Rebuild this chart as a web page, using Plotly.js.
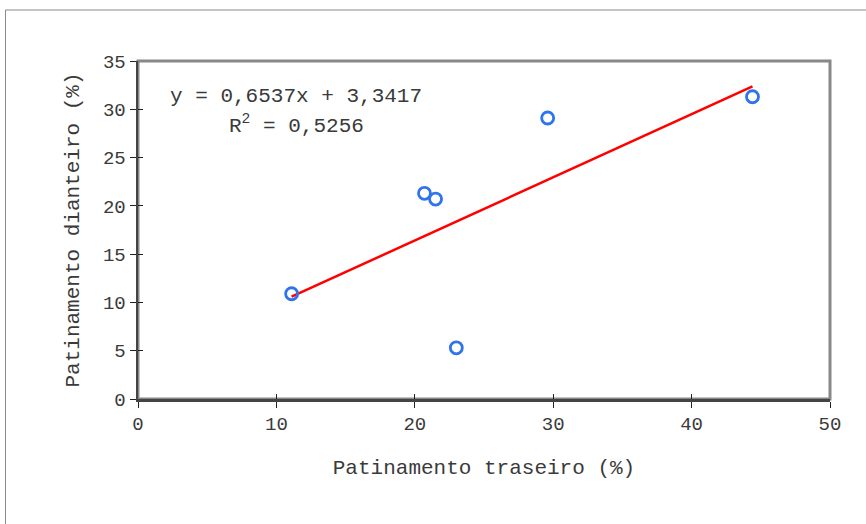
<!DOCTYPE html>
<html>
<head>
<meta charset="utf-8">
<script src="https://cdn.plot.ly/plotly-3.0.1.min.js"></script>
<style>html,body{margin:0;padding:0;background:#fff;}#chart{width:866px;height:524px;}</style>
</head>
<body>
<div id="chart"></div>
<script>
// Data
const traseiro = [11.1, 20.7, 21.5, 23.0, 29.6, 44.4];
const dianteiro = [10.9, 21.3, 20.7, 5.3, 29.1, 31.3];
const slope = 0.6537;
const intercept = 3.3417;
const r2 = "0,5256";
const xTicks = [0, 10, 20, 30, 40, 50];
const yTicks = [0, 5, 10, 15, 20, 25, 30, 35];

const xMin = Math.min(...traseiro), xMax = Math.max(...traseiro);
const trendX = [xMin, xMax];
const trendY = trendX.map(v => slope * v + intercept);

const font = 'Liberation Mono, Courier New, monospace';
const txt = '#3a3a3a';

const traces = [
  {x: trendX, y: trendY, mode: 'lines', type: 'scatter',
   line: {color: '#ff0000', width: 2.5}, hoverinfo: 'skip', showlegend: false},
  {x: traseiro, y: dianteiro, mode: 'markers', type: 'scatter',
   marker: {symbol: 'circle-open', size: 12, color: '#2f74ec', line: {width: 2.8, color: '#2f74ec'}},
   showlegend: false},
  // overlay for inside half of crossing ticks
  {x: [0], y: [0], xaxis: 'x2', yaxis: 'y2', mode: 'markers', marker: {opacity: 0}, hoverinfo: 'skip', showlegend: false}
];

const layout = {
  width: 866, height: 524,
  margin: {l: 138, r: 36, t: 61, b: 125},
  paper_bgcolor: '#fff', plot_bgcolor: '#fff',
  font: {family: font, color: txt, size: 19},
  xaxis: {
    range: [0, 50], tickvals: xTicks, ticktext: xTicks.map(String),
    showgrid: false, zeroline: false,
    showline: true, linecolor: '#444', linewidth: 2.5,
    ticks: 'outside', ticklen: 6, tickwidth: 1, tickcolor: '#222',
    tickfont: {family: font, size: 19, color: txt},
    title: {text: 'Patinamento traseiro (%)', font: {family: font, size: 21, color: txt}, standoff: 24}
  },
  yaxis: {
    range: [0, 35], tickvals: yTicks, ticktext: yTicks.map(String),
    showgrid: false, zeroline: false,
    showline: true, linecolor: '#444', linewidth: 2.5,
    ticks: 'outside', ticklen: 6, tickwidth: 1, tickcolor: '#222',
    tickfont: {family: font, size: 19, color: txt},
    title: {text: 'Patinamento dianteiro (%)', font: {family: font, size: 21, color: txt}, standoff: 18}
  },
  xaxis2: {overlaying: 'x', range: [0, 50], tickvals: xTicks, showticklabels: false,
    ticks: 'inside', ticklen: 5, tickwidth: 1, tickcolor: '#222', showgrid: false, zeroline: false, showline: false, anchor: 'y2', side: 'bottom'},
  yaxis2: {overlaying: 'y', range: [0, 35], tickvals: yTicks, showticklabels: false,
    ticks: 'inside', ticklen: 5, tickwidth: 1, tickcolor: '#222', showgrid: false, zeroline: false, showline: false, anchor: 'x2', side: 'left'},
  shapes: [
    {type: 'rect', xref: 'paper', yref: 'paper', x0: 0, x1: 1, y0: 0, y1: 1,
     line: {color: '#888', width: 3}, layer: 'below'},
    {type: 'rect', xref: 'paper', yref: 'paper', x0: -0.1915, x1: 1.2, y0: -0.5, y1: 1.1509,
     line: {color: '#888', width: 1}, layer: 'below'}
  ],
  annotations: [
    {xref: 'paper', yref: 'paper', x: (296 - 138) / 692, y: (399 - 96) / 338,
     text: 'y = 0,6537x + 3,3417', showarrow: false, xanchor: 'center', yanchor: 'middle',
     font: {family: font, size: 21, color: txt}},
    {xref: 'paper', yref: 'paper', x: (296 - 138) / 692, y: (399 - 125) / 338,
     text: 'R<sup>2</sup> = ' + r2, showarrow: false, xanchor: 'center', yanchor: 'middle',
     font: {family: font, size: 21, color: txt}}
  ]
};

Plotly.newPlot('chart', traces, layout, {displayModeBar: false, staticPlot: true});
</script>
</body>
</html>
